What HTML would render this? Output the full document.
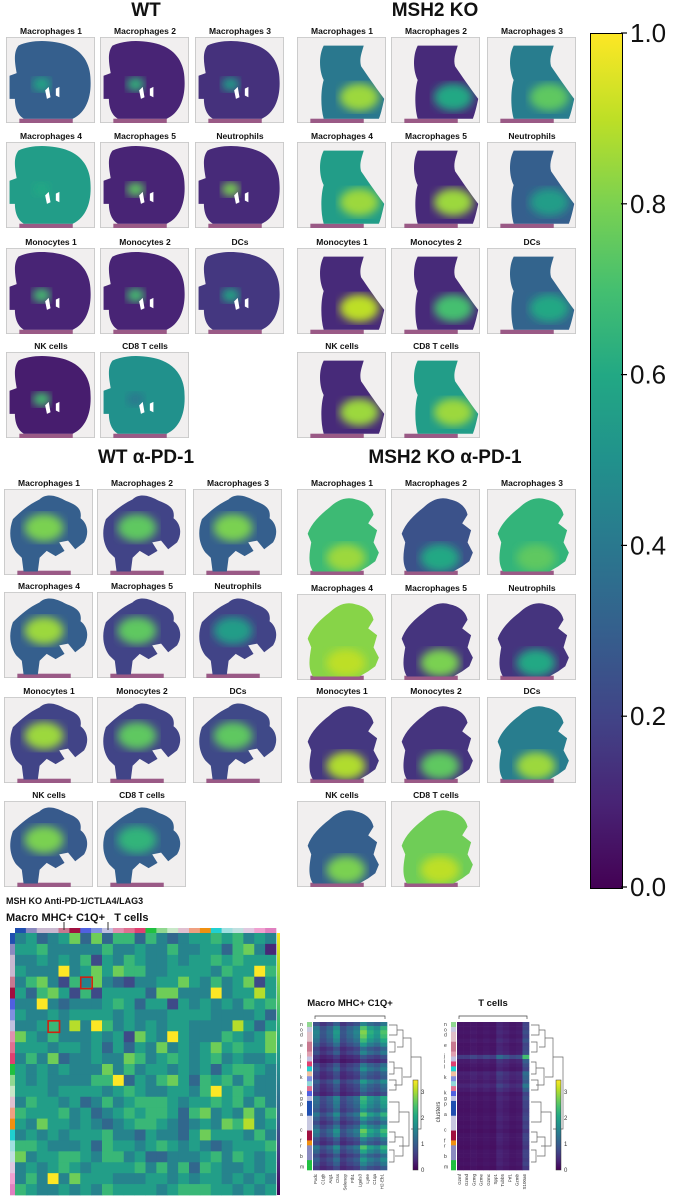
<!DOCTYPE html>
<html><head><meta charset="utf-8">
<style>
body{margin:0;background:#fff;width:697px;height:1199px;overflow:hidden;position:relative;font-family:"Liberation Sans",Arial,sans-serif}
.t{position:absolute;font-weight:bold;color:#111;white-space:nowrap;transform:translateX(-50%)}
.pt{font-size:8.5px}
.gt{font-size:19px}
svg{position:absolute;overflow:visible}
</style></head><body>
<div id="root"></div>

<div class="t gt" style="left:146px;top:0px">WT</div>
<div class="t gt" style="left:435px;top:0px">MSH2 KO</div>
<div class="t gt" style="left:146px;top:447px">WT α-PD-1</div>
<div class="t gt" style="left:445px;top:447px">MSH2 KO α-PD-1</div>

<div style="position:absolute;left:590px;top:33px;width:31px;height:854px;border:1px solid #000;background:linear-gradient(to top,#440154,#482475 10%,#414487 20%,#355f8d 30%,#2a788e 40%,#21918c 50%,#22a884 60%,#44bf70 70%,#7ad151 80%,#bddf26 90%,#fde725)"></div>
<svg id="cbticks" width="697" height="1199" style="left:0;top:0"></svg>

<div class="t" style="left:6px;top:896px;font-size:9px;transform:none">MSH KO Anti-PD-1/CTLA4/LAG3</div>
<div class="t" style="left:6px;top:912px;font-size:11px;transform:none">Macro MHC+ C1Q+&nbsp;&nbsp; T cells</div>
<svg id="bottom" width="697" height="1199" style="left:0;top:0"></svg>
<div class="t" style="left:350px;top:998px;font-size:9.5px">Macro MHC+ C1Q+</div>
<div class="t" style="left:493px;top:998px;font-size:9.5px">T cells</div>

<script>
const NS="http://www.w3.org/2000/svg";
const vstops=["#440154","#482475","#414487","#355f8d","#2a788e","#21918c","#22a884","#44bf70","#7ad151","#bddf26","#fde725"];
function hx(c){return [parseInt(c.substr(1,2),16),parseInt(c.substr(3,2),16),parseInt(c.substr(5,2),16)];}
function vir(v){v=Math.max(0,Math.min(1,v));const p=v*10,i=Math.min(9,Math.floor(p)),f=p-i;const a=hx(vstops[i]),b=hx(vstops[i+1]);return "rgb("+a.map((x,k)=>Math.round(x+(b[k]-x)*f)).join(",")+")";}
function el(t,a,par){const e=document.createElementNS(NS,t);for(const k in a)e.setAttribute(k,a[k]);if(par)par.appendChild(e);return e;}

const cbTicks=[0,0.2,0.4,0.6,0.8,1.0];
const cbTop=33,cbBot=887;
const cb=document.getElementById('cbticks');
cbTicks.forEach(v=>{const y=cbBot-(cbBot-cbTop)*v;
 const l=el('line',{x1:621,x2:627,y1:y,y2:y,stroke:'#000','stroke-width':1.2},cb);
 
 
 const t=el('text',{x:630,y:y+9,'font-size':26,fill:'#111','font-family':'Liberation Sans'},cb);
 t.textContent=v.toFixed(1);
 
 });

const shapes={
 wt:"M14,10 C30,2 55,4 70,10 C85,16 95,30 95,50 C96,70 90,88 75,95 L20,95 C12,90 10,80 10,72 L4,72 L4,45 L12,42 C10,30 8,18 14,10Z",
 ko:"M30,10 L75,10 C72,20 70,26 72,34 C80,46 88,58 98,72 C96,82 94,90 92,95 L30,95 C26,80 27,60 30,50 C25,40 24,22 30,10Z",
 wp:"M10,35 C20,25 28,18 40,12 C48,4 60,8 70,14 C80,18 88,22 86,34 C94,40 96,52 90,62 L80,70 L72,60 L62,62 L68,72 L58,78 L48,72 L40,80 L38,96 L22,96 L20,80 L14,74 C8,66 4,52 10,35Z",
 kp:"M12,52 C16,40 26,30 36,22 C44,14 54,8 66,12 C76,14 84,20 86,30 L80,40 L90,48 L86,62 L92,74 L88,84 L80,90 L70,96 L18,96 C12,86 14,74 16,62 Z"
};
const groups=[
 {shape:'wt',xs:[6,100,195],ys:[37,142,248,352],hx:[40,55],labels:["Macrophages 1","Macrophages 2","Macrophages 3","Macrophages 4","Macrophages 5","Neutrophils","Monocytes 1","Monocytes 2","DCs","NK cells","CD8 T cells"],
  base:[0.3,0.1,0.14,0.55,0.1,0.12,0.1,0.1,0.16,0.08,0.5],hi:[0.6,0.65,0.55,0.6,0.75,0.8,0.7,0.7,0.6,0.7,0.4]},
 {shape:'ko',xs:[297,391,487],ys:[37,142,248,352],hx:[70,70],labels:["Macrophages 1","Macrophages 2","Macrophages 3","Macrophages 4","Macrophages 5","Neutrophils","Monocytes 1","Monocytes 2","DCs","NK cells","CD8 T cells"],
  base:[0.4,0.12,0.42,0.55,0.12,0.3,0.12,0.12,0.32,0.12,0.55],hi:[0.85,0.6,0.75,0.85,0.85,0.55,0.9,0.7,0.6,0.85,0.85]},
 {shape:'wp',xs:[4,97,193],ys:[489,592,697,801],hx:[45,45],labels:["Macrophages 1","Macrophages 2","Macrophages 3","Macrophages 4","Macrophages 5","Neutrophils","Monocytes 1","Monocytes 2","DCs","NK cells","CD8 T cells"],
  base:[0.3,0.2,0.3,0.3,0.2,0.2,0.2,0.2,0.22,0.28,0.3],hi:[0.8,0.75,0.8,0.85,0.75,0.55,0.85,0.75,0.75,0.8,0.65]},
 {shape:'kp',xs:[297,391,487],ys:[489,594,697,801],hx:[55,80],labels:["Macrophages 1","Macrophages 2","Macrophages 3","Macrophages 4","Macrophages 5","Neutrophils","Monocytes 1","Monocytes 2","DCs","NK cells","CD8 T cells"],
  base:[0.68,0.25,0.65,0.82,0.15,0.15,0.16,0.15,0.42,0.3,0.78],hi:[0.85,0.6,0.75,0.9,0.8,0.6,0.88,0.75,0.85,0.8,0.9]}
];
const root=document.body;
groups.forEach((g,gi)=>{
 g.labels.forEach((lab,i)=>{
  const x=g.xs[i%3],y=g.ys[Math.floor(i/3)];
  const t=document.createElement('div');t.className='t pt';t.style.left=(x+45)+'px';t.style.top=(y-11)+'px';t.textContent=lab;
  
  
  root.appendChild(t);
  const s=el('svg',{width:89,height:86,viewBox:'0 0 100 100',preserveAspectRatio:'none'});
  s.style.left=x+'px';s.style.top=y+'px';s.style.overflow='hidden';
  
  
  const defs=el('defs',{},s);const f=el('filter',{id:'b'+gi+'_'+i},defs);el('feGaussianBlur',{stdDeviation:5},f);
  const cp=el('clipPath',{id:'c'+gi+'_'+i},defs);el('path',{d:shapes[g.shape]},cp);
  el('rect',{x:0.5,y:0.5,width:99,height:99,fill:'#f1efef',stroke:'#c8c8c8'},s);
  el('rect',{x:15,y:95,width:60,height:5,fill:'#9a5a86'},s);
  el('path',{d:shapes[g.shape],fill:vir(g.base[i])},s);
  const gg=el('g',{'clip-path':'url(#c'+gi+'_'+i+')'},s);
  el('ellipse',{cx:g.hx[0],cy:g.hx[1],rx:gi==0?10:22,ry:gi==0?8:16,fill:vir(g.hi[i]),filter:'url(#b'+gi+'_'+i+')'},gg);
  if(gi==0){el('path',{d:"M44,62 L48,58 L50,70 L46,72Z M56,60 L60,58 L60,70 L56,68Z",fill:'#fff'},s);}
  root.appendChild(s);
 });
});

const hmRows=[
"453457373663643455656454","556444446445446445536741",
"445454625465445455656555","544494575766445555465596",
"467426474324455754645725","536752625555377444945585",
"449434445653552545454656",
"544545555454445555444453",
"445648496454545544448535",
"754644454527549544465457",
"555455453535474545756557",
"464734454476456545645445",
"545454447464554545356654",
"545444466935467536564644",
"555455554565445546956544",
"465545346456665455656464",
"655564534565665367454746",
"547554543456654345476845",
"454545556443544357555464",
"665444536554565454345556",
"745566546645334445646545",
"454565455556464636544545",
"464947555444554545545454",
"654454546555545666554545"];
const stripTop=["#1f4fb0","#8a8ac0","#c8b8d0","#c8b8d0","#c87890","#a01040","#5060e0","#8090e0","#c0c0e0","#e090b0","#e07090","#e04070","#20c040","#90d890","#c8e8c8","#e0c0d0","#f0a080","#f09010","#20d0d0","#a0e0e0","#c0e0e0","#e0c8e0","#f0a0d0","#e080c0"];
const bot=document.getElementById('bottom');
const hx0=15,hy0=933,hw=261,hh=262,cw=hw/24,ch=hh/24;
function xs(c){return hx0+c*cw;} function ys(r){return hy0+r*ch;}
stripTop.forEach((c,i)=>{const r=el('rect',{x:xs(i),y:928,width:cw+0.3,height:5,fill:c},bot);
 
 
 const r2=el('rect',{x:10,y:ys(i),width:5,height:ch+0.3,fill:c},bot);
 
 });
hmRows.forEach((row,r)=>{[...row].forEach((d,c)=>{
 const rc=el('rect',{x:xs(c),y:ys(r),width:cw+0.4,height:ch+0.4,fill:vir(+d/9)},bot);
 
 });});
[[6,4],[3,8]].forEach(([c,r])=>{const b=el('rect',{x:xs(c)+0.5,y:ys(r)+0.5,width:cw*1.05,height:ch*1.05,fill:'none',stroke:'#d02010','stroke-width':1.6},bot);
 
 });
el('line',{x1:64,x2:64,y1:922,y2:930,stroke:'#333'},bot);el('line',{x1:108,x2:108,y1:922,y2:930,stroke:'#333'},bot);
const gd=el('linearGradient',{id:'vg',x1:0,y1:1,x2:0,y2:0},el('defs',{},bot));
vstops.forEach((c,i)=>el('stop',{offset:i/10,'stop-color':c},gd));
const hcb=el('rect',{x:277,y:933,width:3,height:262,fill:'url(#vg)'},bot);



const macroGenes=["Pxdc","C1qb","Arg1","Ctss","Selenop","Fth1","Lgals3","Ly6e","C1qa","H2-Eb1"];
const macroCols=[0.25,0.15,0.2,0.3,0.15,0.2,0.25,0.45,0.35,0.3,0.4];
const tGenes=["Gzmf","Gzmd","Gzmg","Gzme","Gzmc","Spp1","Tubb5","Prf1","Gzmb","S100a6"];
const tCols=[0.05,0.05,0.06,0.05,0.06,0.05,0.1,0.08,0.06,0.07,0.2];
const rowMod=[1,1.6,1.8,1.7,1.5,1.2,0.8,1,0.6,0.4,0.9,1.1,0.8,0.7,1.2,0.9,0.8,0.6,1.5,1.4,1.3,1.1,1.6,1.2,0.9,1.3,1.7,1.5,1.0,0.8,1.6,1.3,0.9,1.2,1.0,0.7];
const tRowMod=[1,1,1.2,1,1.3,1,1.1,1.2,3.5,1.5,1.2,1,1.8,1.6,1.4,2,1.5,1,1.2,1,1,0.9,1,1.1,0.9,1,0.8,1,1,0.9,0.8,1,1,0.9,1,0.8];
const sideCols=["#90d890","#c8c8e0","#e0c0c8","#e0c0c8","#c87890","#c87890","#e0a0b0","#c0c0e0","#e04070","#20d0d0","#f0c0a0","#8090e0","#90d8d8","#e07090","#5060e0","#c0c0e0","#1f4fb0","#1f4fb0","#1f4fb0","#c8c8e0","#c8c8e0","#c8c8e0","#a01040","#a01040","#f09010","#8a8ac0","#8a8ac0","#8a8ac0","#20c040","#20c040"];
const sideLab=["n","o","d","","e","","j","i","l","","k","","","k","g","p","","a","","","c","","f","r","","b","","m"];
function smallHM(x0,y0,w,h,cols,mod,genes,cbx,name){
 const nr=mod.length,nc=cols.length,rh=h/nr,cw2=w/nc;
 mod.forEach((m,r)=>cols.forEach((v,c)=>{const rc=el('rect',{x:x0+c*cw2,y:y0+r*rh,width:cw2+0.3,height:rh+0.3,fill:vir(v*m)},bot);
  
  }));
 sideCols.forEach((c,i)=>el('rect',{x:x0-6,y:y0+i*h/sideCols.length,width:5,height:h/sideCols.length+0.3,fill:c},bot));
 sideLab.forEach((l,i)=>{if(l){const t=el('text',{x:x0-13,y:y0+4+i*h/sideLab.length,'font-size':5,fill:'#333'},bot);t.textContent=l;}});
 el('path',{d:`M${x0+2},${y0-3} L${x0+2},${y0-6} L${x0+w-2},${y0-6} L${x0+w-2},${y0-3}`,fill:'none',stroke:'#444','stroke-width':0.7},bot);
 genes.forEach((g,i)=>{const gx=x0+4+i*w/genes.length;const t=el('text',{x:gx,y:y0+h+4,'font-size':4.5,fill:'#333',transform:`rotate(-90 ${gx} ${y0+h+4})`,'text-anchor':'end'},bot);t.textContent=g;
  
  });
 const dx=x0+w+2;const d=el('g',{stroke:'#666',fill:'none','stroke-width':0.7},bot);
 el('path',{d:`M${dx},${y0+3}h8v10h-8 M${dx},${y0+20}h6v10h-6 M${dx+8},${y0+8}h6v17h-6 M${dx},${y0+40}h5v12h-5 M${dx},${y0+58}h7v10h-7 M${dx+5},${y0+46}h8v17h-8 M${dx+14},${y0+16}h8v39h-8 M${dx},${y0+80}h10v20h-10 M${dx},${y0+110}h6v10h-6 M${dx},${y0+128}h5v12h-5 M${dx+6},${y0+115}h8v19h-8 M${dx+10},${y0+90}h10v34h-10 M${dx+22},${y0+35}h10v72h-10`},d);
 const c=el('rect',{x:cbx,y:1080,width:5,height:90,fill:'url(#vg)',stroke:'#333','stroke-width':0.5},bot);
 
 
 [0,1,2,3].forEach(v=>{const t=el('text',{x:cbx+8,y:1172-v*26,'font-size':6,fill:'#333'},bot);t.textContent=v;});
}
smallHM(313,1022,74,148,macroCols,rowMod,macroGenes,413,'macro-heatmap');
smallHM(457,1022,72,148,tCols,tRowMod,tGenes,556,'tcell-heatmap');
const cl=el('text',{x:0,y:0,'font-size':6,fill:'#333',transform:'translate(440,1112) rotate(-90)','text-anchor':'middle'},bot);cl.textContent='clusters';
</script>
</body></html>
